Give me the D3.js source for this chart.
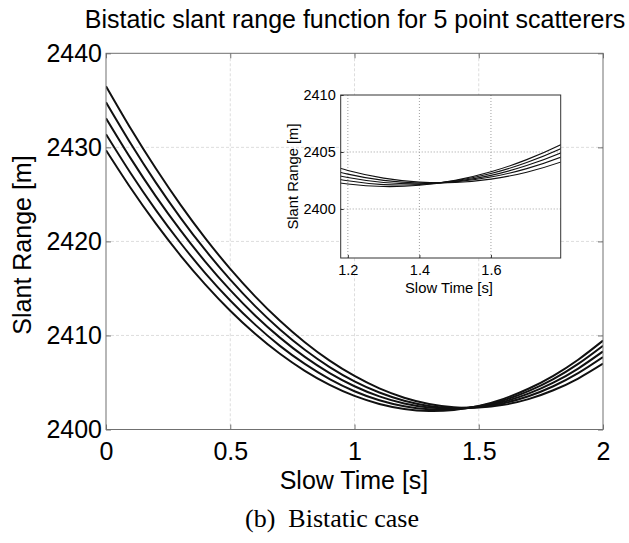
<!DOCTYPE html>
<html>
<head>
<meta charset="utf-8">
<script src="https://cdn.jsdelivr.net/npm/d3@7"></script>
<style>
body { margin: 0; background: #fff; }
text { font-family: "Liberation Sans", Arial, sans-serif; fill: #000; }
</style>
</head>
<body>
<svg id="chart" width="629" height="543"></svg>
<script>
// slow time samples [s]
var slowTime = [0, 0.1, 0.2, 0.3, 0.4, 0.5, 0.6, 0.7, 0.8, 0.9, 1.0,
                1.1, 1.2, 1.3, 1.4, 1.5, 1.6, 1.7, 1.8, 1.9, 2.0];

// slant range of the 5 scatterers [m]
var range1 = [2436.50, 2431.97, 2427.77, 2423.88, 2420.32, 2417.08, 2414.16, 2411.56, 2409.28, 2407.32, 2405.69,
              2404.37, 2403.38, 2402.71, 2402.36, 2402.33, 2402.62, 2403.23, 2404.17, 2405.42, 2407.00];
var range2 = [2434.80, 2430.38, 2426.28, 2422.51, 2419.06, 2415.93, 2413.12, 2410.64, 2408.48, 2406.64, 2405.12,
              2403.93, 2403.06, 2402.51, 2402.28, 2402.38, 2402.80, 2403.54, 2404.60, 2405.99, 2407.70];
var range3 = [2433.10, 2428.80, 2424.82, 2421.17, 2417.83, 2414.82, 2412.13, 2409.77, 2407.72, 2406.00, 2404.60,
              2403.52, 2402.76, 2402.33, 2402.21, 2402.42, 2402.95, 2403.81, 2404.98, 2406.48, 2408.30];
var range4 = [2431.40, 2427.22, 2423.36, 2419.83, 2416.61, 2413.72, 2411.15, 2408.89, 2406.97, 2405.36, 2404.07,
              2403.11, 2402.47, 2402.14, 2402.15, 2402.47, 2403.11, 2404.08, 2405.36, 2406.97, 2408.90];
var range5 = [2429.70, 2425.65, 2421.91, 2418.50, 2415.41, 2412.63, 2410.18, 2408.05, 2406.24, 2404.74, 2403.57,
              2402.72, 2402.19, 2401.97, 2402.08, 2402.51, 2403.26, 2404.33, 2405.71, 2407.42, 2409.45];

var xTicks = [0, 0.5, 1, 1.5, 2];
var yTicks = [2400, 2410, 2420, 2430, 2440];
var insetXTicks = [1.2, 1.4, 1.6];
var insetYTicks = [2400, 2405, 2410];

var sans = "'Liberation Sans', Arial, sans-serif";
var svg = d3.select("#chart");
var series = [range1, range2, range3, range4, range5].map(function (r) {
    return r.map(function (v, i) { return [slowTime[i], v]; });
});

// ---- main plot ----
var pL = 106, pR = 603, pT = 53.3, pB = 429.5;
var x = d3.scaleLinear().domain([0, 2]).range([pL, pR]);
var y = d3.scaleLinear().domain([2400, 2440]).range([pB, pT]);

function grid(g, xs, ys, xT, yT, x0, x1, y0, y1, color, dash) {
    g.selectAll(".gx").data(xT.filter(function (d) { return xs(d) > x0 + 1 && xs(d) < x1 - 1; }))
        .enter().append("line")
        .attr("x1", function (d) { return xs(d); }).attr("x2", function (d) { return xs(d); })
        .attr("y1", y0).attr("y2", y1)
        .attr("stroke", color).attr("stroke-dasharray", dash);
    g.selectAll(".gy").data(yT.filter(function (d) { return ys(d) > y0 + 1 && ys(d) < y1 - 1; }))
        .enter().append("line")
        .attr("y1", function (d) { return ys(d); }).attr("y2", function (d) { return ys(d); })
        .attr("x1", x0).attr("x2", x1)
        .attr("stroke", color).attr("stroke-dasharray", dash);
}

grid(svg.append("g"), x, y, xTicks, yTicks, pL, pR, pT, pB, "#dddddd", "3,2");

var line = d3.line()
    .x(function (d) { return x(d[0]); })
    .y(function (d) { return y(d[1]); })
    .curve(d3.curveNatural);

var defs = svg.append("defs");
defs.append("clipPath").attr("id", "mainClip")
    .append("rect").attr("x", pL).attr("y", pT).attr("width", pR - pL).attr("height", pB - pT);

svg.append("g").attr("clip-path", "url(#mainClip)")
    .selectAll("path").data(series).enter().append("path")
    .attr("d", line)
    .attr("fill", "none")
    .attr("stroke", "#111")
    .attr("stroke-width", 2);

svg.append("rect")
    .attr("x", pL).attr("y", pT).attr("width", pR - pL).attr("height", pB - pT)
    .attr("fill", "none").attr("stroke", "#707070");

function styleAxis(g, size) {
    g.select(".domain").remove();
    g.selectAll(".tick line").attr("stroke", "#707070");
    g.selectAll(".tick text").style("font-size", size + "px").attr("fill", "#000")
        .style("font-family", sans);
}

var fmt = d3.format("");
svg.append("g").attr("transform", "translate(0," + pB + ")")
    .call(d3.axisBottom(x).tickValues(xTicks).tickFormat(fmt).tickSizeInner(-5).tickSizeOuter(0).tickPadding(13))
    .call(styleAxis, 25);
svg.append("g").attr("transform", "translate(" + pL + ",0)")
    .call(d3.axisLeft(y).tickValues(yTicks).tickFormat(fmt).tickSizeInner(-5).tickSizeOuter(0).tickPadding(4))
    .call(styleAxis, 25);
svg.append("g").attr("transform", "translate(0," + pT + ")")
    .call(d3.axisTop(x).tickValues(xTicks).tickFormat("").tickSizeInner(-5).tickSizeOuter(0))
    .call(styleAxis, 25);
svg.append("g").attr("transform", "translate(" + pR + ",0)")
    .call(d3.axisRight(y).tickValues(yTicks).tickFormat("").tickSizeInner(-5).tickSizeOuter(0))
    .call(styleAxis, 25);

svg.append("text").attr("x", 355).attr("y", 28).attr("text-anchor", "middle")
    .style("font-family", sans).style("font-size", "25px")
    .text("Bistatic slant range function for 5 point scatterers");
svg.append("text").attr("x", 354).attr("y", 489).attr("text-anchor", "middle")
    .style("font-family", sans).style("font-size", "25px").text("Slow Time [s]");
svg.append("text").attr("transform", "translate(31,245) rotate(-90)").attr("text-anchor", "middle")
    .style("font-family", sans).style("font-size", "25px").text("Slant Range [m]");
svg.append("text").attr("x", 332).attr("y", 527).attr("text-anchor", "middle")
    .style("font-family", "'Liberation Serif', 'Times New Roman', serif").style("font-size", "26px")
    .text("(b)\u00a0\u00a0Bistatic case");

// ---- inset ----
var iL = 340.7, iR = 560.7, iT = 95, iB = 258;
var ix = d3.scaleLinear().domain([1.18, 1.795]).range([iL, iR]);
var iy = d3.scaleLinear().domain([2395.7, 2410]).range([iB, iT]);

var inset = svg.append("g");
inset.append("rect").attr("x", iL).attr("y", iT).attr("width", iR - iL).attr("height", iB - iT)
    .attr("fill", "#fff");
grid(inset.append("g"), ix, iy, insetXTicks, insetYTicks, iL, iR, iT, iB, "#a0a0a0", "1,2");

defs.append("clipPath").attr("id", "insetClip")
    .append("rect").attr("x", iL).attr("y", iT).attr("width", iR - iL).attr("height", iB - iT);

var insetLine = d3.line()
    .x(function (d) { return ix(d[0]); })
    .y(function (d) { return iy(d[1]); })
    .curve(d3.curveNatural);

inset.append("g").attr("clip-path", "url(#insetClip)")
    .selectAll("path").data(series).enter().append("path")
    .attr("d", insetLine)
    .attr("fill", "none")
    .attr("stroke", "#111")
    .attr("stroke-width", 1.1);

inset.append("rect").attr("x", iL).attr("y", iT).attr("width", iR - iL).attr("height", iB - iT)
    .attr("fill", "none").attr("stroke", "#333");

inset.append("g").attr("transform", "translate(0," + iB + ")")
    .call(d3.axisBottom(ix).tickValues(insetXTicks).tickFormat(d3.format(".1f")).tickSizeInner(-3).tickSizeOuter(0).tickPadding(7))
    .call(styleAxis, 14.5);
inset.append("g").attr("transform", "translate(" + iL + ",0)")
    .call(d3.axisLeft(iy).tickValues(insetYTicks).tickFormat(fmt).tickSizeInner(-3).tickSizeOuter(0).tickPadding(5))
    .call(styleAxis, 14.5);
inset.selectAll(".tick line").attr("stroke", "#333");

inset.append("text").attr("x", 449).attr("y", 293).attr("text-anchor", "middle")
    .style("font-family", sans).style("font-size", "14.8px").text("Slow Time [s]");
inset.append("text").attr("transform", "translate(298,176.5) rotate(-90)").attr("text-anchor", "middle")
    .style("font-family", sans).style("font-size", "14.8px").text("Slant Range [m]");
</script>
</body>
</html>
